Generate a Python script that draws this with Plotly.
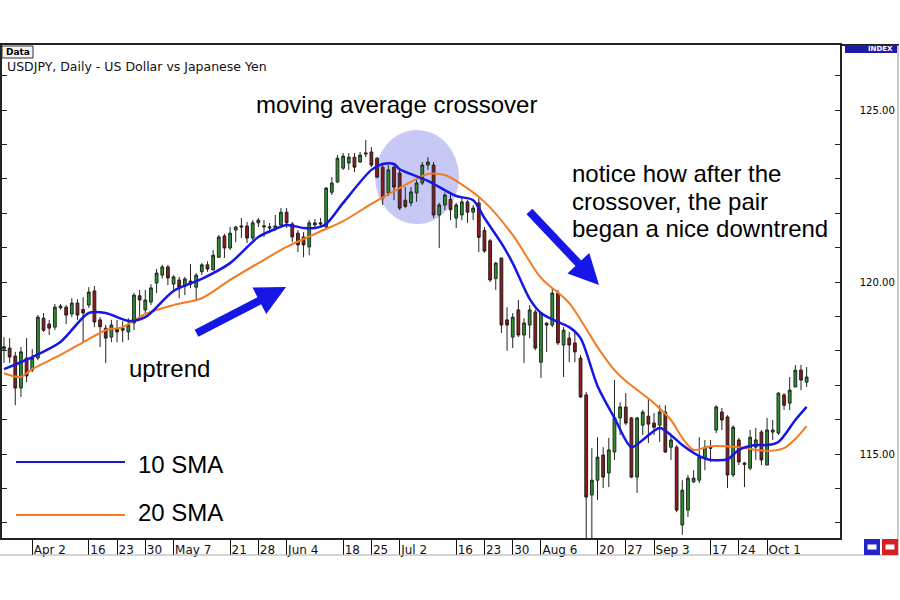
import pandas as pd
import plotly.graph_objects as go

# USDJPY daily candles, 26 Mar 2007 .. 10 Oct 2007
start_date = "2007-03-26"

opens = [
    118.05, 118.08, 117.85, 116.92, 117.79, 117.44, 117.79, 118.95, 118.78, 118.69,
    119.25, 119.27, 119.07, 119.39, 119.20, 119.33, 119.74, 118.90, 118.66, 118.40,
    118.63, 118.66, 118.55, 118.81, 119.60, 119.19, 119.42, 119.97, 120.20, 120.44,
    119.94, 120.06, 119.88, 120.03, 119.85, 120.30, 120.50, 120.35, 120.72, 121.34,
    120.99, 121.51, 121.63, 121.63, 121.28, 121.72, 121.60, 121.57, 121.55, 121.66,
    122.03, 121.69, 121.42, 121.31, 121.02, 121.66, 121.72, 121.60, 122.61, 122.91,
    123.31, 123.46, 123.63, 123.49, 123.72, 123.78, 123.60, 123.34, 122.59, 123.34,
    123.17, 122.38, 122.30, 122.59, 122.88, 123.40, 123.40, 121.95, 122.24, 122.40,
    121.86, 121.95, 122.33, 122.03, 122.30, 121.50, 121.20, 120.10, 120.70, 118.90,
    118.40, 119.19, 118.46, 118.75, 119.13, 117.67, 118.80, 118.75, 119.68, 118.17,
    118.37, 118.23, 117.79, 116.72, 113.81, 114.24, 114.97, 114.45, 115.06, 116.05,
    116.37, 116.05, 114.33, 115.84, 116.10, 115.90, 115.84, 116.22, 115.20, 115.20,
    112.94, 113.37, 114.19, 114.24, 114.90, 115.20, 115.70, 116.22, 116.08, 114.39,
    115.41, 114.74, 114.59, 115.20, 115.64, 114.68, 115.64, 115.61, 116.72, 116.48,
    116.95, 117.44, 117.09,
]
highs = [
    118.40, 118.37, 117.97, 118.11, 118.37, 118.05, 119.04, 119.10, 118.90, 119.36,
    119.36, 119.33, 119.53, 119.50, 119.56, 119.85, 119.88, 118.98, 118.75, 118.90,
    118.90, 118.86, 118.95, 119.68, 119.77, 119.77, 119.94, 120.38, 120.50, 120.50,
    120.20, 120.15, 120.15, 120.52, 120.26, 120.55, 120.60, 120.93, 121.37, 121.40,
    121.60, 121.63, 121.86, 121.75, 121.80, 121.86, 121.80, 121.72, 121.95, 122.15,
    122.15, 121.74, 121.51, 121.45, 121.80, 121.83, 121.86, 122.76, 123.05, 123.69,
    123.75, 123.75, 123.75, 123.78, 124.13, 123.92, 123.63, 123.40, 123.40, 123.40,
    123.26, 122.76, 122.76, 123.02, 123.49, 123.63, 123.49, 122.30, 122.60, 122.60,
    122.30, 122.44, 122.38, 122.24, 122.44, 121.60, 121.25, 120.58, 120.70, 119.27,
    119.10, 119.48, 118.95, 119.33, 119.20, 119.13, 118.84, 119.83, 119.77, 118.69,
    118.55, 118.52, 117.88, 116.80, 115.17, 115.49, 115.20, 115.47, 117.15, 116.51,
    116.77, 116.08, 116.08, 116.28, 116.63, 116.19, 116.42, 116.42, 115.55, 115.26,
    114.24, 114.39, 114.53, 115.49, 115.41, 115.41, 116.42, 116.34, 116.13, 115.84,
    115.47, 114.77, 115.70, 115.76, 115.70, 116.05, 115.99, 116.80, 116.77, 117.24,
    117.59, 117.59, 117.53,
]
lows = [
    117.65, 117.65, 116.42, 116.66, 117.09, 117.38, 117.73, 118.55, 118.46, 118.60,
    119.20, 118.78, 118.98, 118.90, 118.23, 119.25, 118.69, 118.11, 117.65, 118.25,
    118.25, 118.25, 118.31, 118.60, 118.95, 119.10, 119.33, 119.68, 120.10, 119.91,
    119.77, 119.53, 119.62, 119.82, 119.48, 120.20, 120.30, 120.35, 120.70, 120.70,
    120.93, 121.16, 121.28, 121.13, 121.22, 121.60, 121.31, 121.42, 121.50, 121.60,
    121.57, 121.16, 120.87, 120.72, 120.78, 121.55, 121.60, 121.51, 122.53, 122.88,
    123.26, 123.26, 123.20, 123.46, 123.63, 123.34, 123.02, 122.24, 122.50, 122.38,
    122.09, 122.15, 122.20, 122.33, 122.82, 123.26, 121.86, 120.99, 122.09, 121.80,
    121.57, 121.80, 121.72, 121.80, 120.87, 120.85, 120.00, 119.77, 118.52, 118.00,
    118.08, 118.40, 117.65, 118.37, 118.02, 117.21, 117.97, 118.69, 118.17, 117.24,
    117.67, 117.67, 116.63, 111.60, 112.00, 113.66, 114.01, 114.04, 114.83, 115.55,
    115.84, 114.30, 113.87, 115.55, 115.32, 115.55, 115.35, 115.03, 114.83, 113.31,
    112.65, 113.17, 114.16, 114.16, 114.53, 114.77, 115.61, 115.70, 114.01, 114.33,
    114.68, 114.04, 114.53, 114.83, 114.68, 114.68, 115.41, 115.55, 116.28, 116.28,
    116.95, 116.86, 116.95,
]
closes = [
    118.12, 117.82, 116.92, 117.97, 117.27, 117.79, 118.98, 118.60, 118.66, 119.27,
    119.30, 119.04, 119.39, 119.04, 119.10, 119.71, 118.84, 118.70, 118.37, 118.75,
    118.55, 118.60, 118.75, 119.62, 119.48, 119.48, 119.83, 120.26, 120.44, 120.12,
    120.15, 119.85, 120.09, 119.94, 120.20, 120.50, 120.38, 120.78, 121.31, 120.99,
    121.42, 121.60, 121.60, 121.28, 121.72, 121.80, 121.63, 121.60, 121.63, 122.03,
    121.72, 121.31, 121.08, 121.08, 121.72, 121.72, 121.69, 122.73, 122.88, 123.60,
    123.66, 123.63, 123.34, 123.69, 123.75, 123.40, 123.05, 122.44, 123.26, 122.76,
    122.15, 122.20, 122.62, 122.88, 123.40, 123.49, 121.95, 122.24, 122.53, 122.10,
    122.24, 122.33, 122.03, 122.15, 121.30, 120.90, 120.06, 120.55, 118.75, 118.75,
    118.98, 118.46, 118.81, 119.19, 118.08, 119.10, 118.75, 119.68, 118.23, 118.60,
    118.17, 117.97, 116.66, 113.75, 114.24, 114.91, 114.33, 115.12, 116.05, 116.37,
    115.90, 114.33, 116.05, 116.22, 115.87, 115.78, 116.22, 115.06, 115.41, 113.37,
    113.95, 114.30, 114.30, 114.91, 115.20, 115.17, 116.37, 115.99, 114.39, 115.78,
    114.77, 114.70, 115.49, 115.41, 114.83, 115.70, 115.70, 116.77, 116.42, 116.86,
    117.44, 117.15, 117.24,
]

# moving averages as drawn (candle index -> value)
sma10_idx = [0, 5, 10, 15, 18, 22, 25, 30, 35, 40, 45, 48, 50, 53, 55, 57, 60, 65, 67, 69,
             70, 75, 80, 83, 85, 88, 90, 93, 95, 98, 100, 102, 105, 108, 111, 113, 116, 118,
             120, 123, 125, 128, 130, 133, 135, 137, 140, 142]
sma10 = [117.47, 117.82, 118.26, 119.10, 119.10, 118.87, 118.98, 119.74, 120.09, 120.55,
         121.31, 121.54, 121.66, 121.57, 121.57, 121.69, 122.30, 123.26, 123.43, 123.43,
         123.28, 122.94, 122.50, 122.38, 121.86, 121.13, 120.55, 119.51, 119.10, 118.84,
         118.69, 118.37, 116.98, 116.05, 115.20, 115.41, 115.76, 115.55, 115.26, 114.94,
         114.83, 114.85, 115.12, 115.26, 115.26, 115.35, 115.99, 116.37]
sma20_idx = [0, 3, 5, 10, 15, 18, 21, 25, 30, 35, 40, 45, 50, 55, 60, 65, 70, 75, 78, 80,
             85, 90, 95, 100, 105, 108, 110, 115, 118, 120, 122, 125, 130, 135, 138, 140, 142]
sma20 = [117.35, 117.24, 117.47, 117.88, 118.34, 118.60, 118.69, 119.07, 119.33, 119.53,
         120.06, 120.55, 121.02, 121.40, 121.77, 122.27, 122.73, 123.14, 123.11, 122.94,
         122.33, 121.37, 120.12, 119.39, 118.11, 117.44, 117.12, 116.48, 115.99, 115.47,
         115.12, 115.23, 115.20, 115.09, 115.17, 115.44, 115.81]

tick_dates = ["2007-04-02", "2007-04-16", "2007-04-23", "2007-04-30", "2007-05-07",
              "2007-05-21", "2007-05-28", "2007-06-04", "2007-06-18", "2007-06-25",
              "2007-07-02", "2007-07-16", "2007-07-23", "2007-07-30", "2007-08-06",
              "2007-08-20", "2007-08-27", "2007-09-03", "2007-09-17", "2007-09-24",
              "2007-10-01"]
tick_text = ["Apr 2", "16", "23", "30", "May 7", "21", "28", "Jun 4", "18", "25",
             "Jul 2", "16", "23", "30", "Aug 6", "20", "27", "Sep 3", "17", "24", "Oct 1"]

price_ticks = [113, 114, 115, 116, 117, 118, 119, 120, 121, 122, 123, 124, 125, 126]
price_labels = ["", "", "115.00", "", "", "", "", "120.00", "", "", "", "", "125.00", ""]

dates = pd.bdate_range(start_date, periods=len(opens)).strftime("%Y-%m-%d").tolist()

BLUE = "#1616e6"
ORANGE = "#f57a22"
TEXT_FONT = "Liberation Sans"

# plot area in page pixels, used for the drawn decorations
PL, PR, PT, PB = 2, 840, 45, 538


def px(x):
    return (x - PL) / (PR - PL)


def py(y):
    return (PB - y) / (PB - PT)


fig = go.Figure()
fig.add_trace(go.Candlestick(
    x=dates, open=opens, high=highs, low=lows, close=closes,
    increasing=dict(line=dict(color="#1e2a1e", width=1), fillcolor="#2f8f2f"),
    decreasing=dict(line=dict(color="#2a1e1e", width=1), fillcolor="#8e1b1b"),
    whiskerwidth=0, showlegend=False, hoverinfo="skip",
))
fig.add_trace(go.Scatter(
    x=[dates[i] for i in sma20_idx], y=sma20, mode="lines",
    line=dict(color=ORANGE, width=2, shape="spline", smoothing=0.8),
    showlegend=False, hoverinfo="skip",
))
fig.add_trace(go.Scatter(
    x=[dates[i] for i in sma10_idx], y=sma10, mode="lines",
    line=dict(color=BLUE, width=2.5, shape="spline", smoothing=0.8),
    showlegend=False, hoverinfo="skip",
))

shapes = [
    # crossover highlight
    dict(type="circle", xref="paper", yref="paper", layer="below",
         x0=px(375), x1=px(459), y0=py(224), y1=py(130),
         fillcolor="rgba(110,110,225,0.38)", line=dict(width=0)),
    # legend samples
    dict(type="line", xref="paper", yref="paper", x0=px(16), x1=px(125),
         y0=py(462), y1=py(462), line=dict(color=BLUE, width=2)),
    dict(type="line", xref="paper", yref="paper", x0=px(16), x1=px(125),
         y0=py(515), y1=py(515), line=dict(color=ORANGE, width=2)),
    # frame around the price panel and date strip
    dict(type="line", xref="paper", yref="paper", x0=px(840), x1=px(899),
         y0=py(45), y1=py(45), line=dict(color="#222", width=2)),
    dict(type="line", xref="paper", yref="paper", x0=px(898), x1=px(898),
         y0=py(45), y1=py(556), line=dict(color="#999", width=1)),
    dict(type="line", xref="paper", yref="paper", x0=px(0), x1=px(898),
         y0=py(555), y1=py(555), line=dict(color="#aaa", width=1)),
    # "Data" tab and "INDEX" tab
    dict(type="rect", xref="paper", yref="paper", x0=px(2), x1=px(33),
         y0=py(58), y1=py(46), fillcolor="#f4f4f4", line=dict(color="#333", width=1)),
    dict(type="rect", xref="paper", yref="paper", x0=px(845), x1=px(897),
         y0=py(53), y1=py(45), fillcolor="#1c1ca8", line=dict(width=0)),
    # small buttons bottom right
    dict(type="rect", xref="paper", yref="paper", x0=px(864), x1=px(880),
         y0=py(555), y1=py(539), fillcolor="#2424c8", line=dict(width=0)),
    dict(type="rect", xref="paper", yref="paper", x0=px(867), x1=px(877),
         y0=py(550), y1=py(544), fillcolor="white", line=dict(color="#2424c8", width=1)),
    dict(type="rect", xref="paper", yref="paper", x0=px(882), x1=px(898),
         y0=py(555), y1=py(539), fillcolor="#d42020", line=dict(width=0)),
    dict(type="rect", xref="paper", yref="paper", x0=px(885), x1=px(895),
         y0=py(550), y1=py(544), fillcolor="white", line=dict(color="#d42020", width=1)),
]


def label(text, x, y, size=24, anchor="left", **kw):
    return dict(text=text, xref="paper", yref="paper", x=px(x), y=py(y),
                xanchor=anchor, yanchor="middle", showarrow=False,
                font=dict(family=TEXT_FONT, size=size, color="black"), **kw)


def arrow(tip_x, tip_y, tail_x, tail_y):
    return dict(text="", xref="paper", yref="paper", x=px(tip_x), y=py(tip_y),
                ax=tail_x - tip_x, ay=tail_y - tip_y, showarrow=True,
                arrowhead=2, arrowsize=0.75, arrowwidth=8, arrowcolor=BLUE, standoff=0)


annotations = [
    dict(text="<b>Data</b>", xref="paper", yref="paper", x=px(4), y=py(52),
         xanchor="left", yanchor="middle", showarrow=False,
         font=dict(family="DejaVu Sans", size=9, color="black")),
    dict(text="<b>INDEX</b>", xref="paper", yref="paper", x=px(895), y=py(49),
         xanchor="right", yanchor="middle", showarrow=False,
         font=dict(family="DejaVu Sans", size=7, color="white")),
    dict(text="USDJPY, Daily - US Dollar vs Japanese Yen", xref="paper", yref="paper",
         x=px(5), y=py(67), xanchor="left", yanchor="middle", showarrow=False,
         font=dict(family="DejaVu Sans", size=12.5, color="#111")),
    label("moving average crossover", 396, 104, anchor="center"),
    label("notice how after the", 570, 174),
    label("crossover, the pair", 570, 201),
    label("began a nice downtrend", 570, 228),
    label("uptrend", 127, 368),
    label("10 SMA", 136, 464),
    label("20 SMA", 136, 512),
    arrow(286, 287, 195, 334),
    arrow(599, 285, 528, 210),
]

fig.update_layout(
    width=900, height=600,
    margin=dict(l=PL, r=900 - PR, t=PT, b=600 - PB),
    paper_bgcolor="white", plot_bgcolor="white",
    font=dict(family="DejaVu Sans", color="#111"),
    shapes=shapes, annotations=annotations,
    showlegend=False,
)
fig.update_xaxes(
    type="category", range=[-0.35, 147.9], automargin=False,
    tickmode="array", tickvals=tick_dates, ticktext=tick_text, tickangle=0,
    ticks="outside", ticklen=15, tickcolor="#111", tickwidth=1,
    ticklabelposition="outside right", tickfont=dict(size=12, color="#111"),
    showline=True, linecolor="#222", linewidth=2, mirror=True,
    showgrid=False, zeroline=False, rangeslider=dict(visible=False),
)
fig.update_yaxes(
    side="right", range=[112.56, 126.89], automargin=False,
    tickmode="array", tickvals=price_ticks, ticktext=price_labels,
    ticks="inside", ticklen=5, tickcolor="#222", tickwidth=1,
    ticklabelstandoff=16, tickfont=dict(size=10, color="#000"),
    showline=True, linecolor="#222", linewidth=1.5, mirror="allticks",
    showgrid=False, zeroline=False,
)

# the page body has a default 8px margin; drop it so the figure sits at 0,0
fig.write_html(
    "out.html",
    config={"displayModeBar": False},
    post_script="document.body.style.margin='0';document.body.style.overflow='hidden';",
)
